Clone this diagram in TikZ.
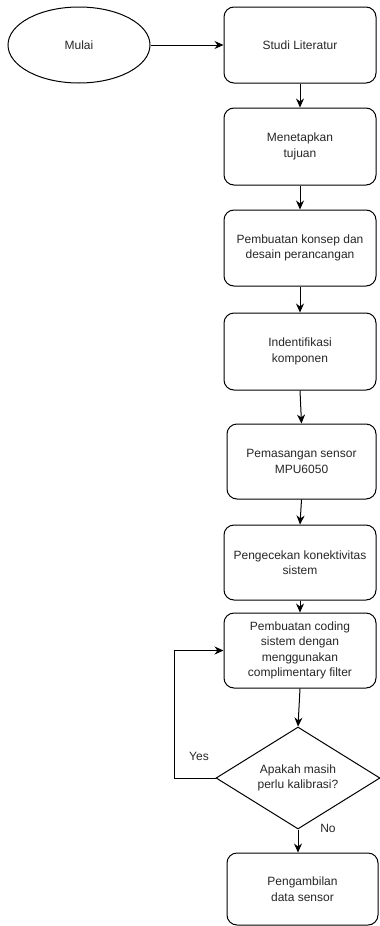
\documentclass[tikz,border=0pt]{standalone}
\usepackage{fontspec}
\setmainfont{Liberation Sans}
\usetikzlibrary{shapes.geometric,arrows.meta}
\begin{document}
\begin{tikzpicture}[x=1pt,y=-1pt,
  every node/.style={font=\fontsize{12}{15.5}\selectfont, text=black!85, align=center},
  proc/.style={draw, line width=1pt, rounded corners=10pt, minimum width=152pt, minimum height=76pt, inner sep=0pt},
  term/.style={draw, line width=1pt, ellipse, minimum width=142pt, minimum height=76pt, inner sep=0pt},
  decide/.style={draw, line width=1pt, diamond, aspect=1.6, minimum width=164pt, minimum height=102pt, inner sep=0pt},
  lbl/.style={inner sep=0pt},
  arr/.style={line width=1pt, -{Stealth[length=9pt,width=8pt]}}
]
\useasboundingbox (0,0) rectangle (380,926);
\node[term] (mulai) at (79,45) {Mulai};
\node[proc] (studi) at (300,45) {Studi Literatur};
\node[proc, minimum height=77pt] (tujuan) at (300,146.5) {Menetapkan\\tujuan};
\node[proc] (konsep) at (300,248) {Pembuatan konsep dan\\desain perancangan};
\node[proc, minimum height=77pt] (komp) at (300,351.5) {Indentifikasi\\komponen};
\node[proc, minimum width=149pt, minimum height=75pt] (sensor) at (301.5,461.5) {Pemasangan sensor\\MPU6050};
\node[proc, minimum height=75pt] (cek) at (300,562.5) {Pengecekan konektivitas\\sistem};
\node[proc, minimum height=75pt] (coding) at (300,650.5) {Pembuatan coding\\sistem dengan\\menggunakan\\complimentary filter};
\node[decide] (dia) at (298,778) {Apakah masih\\perlu kalibrasi?};
\node[proc, minimum width=151pt, minimum height=72pt] (ambil) at (302.5,889) {Pengambilan\\data sensor};
\node[lbl] (yes) at (199,756) {Yes};
\node[lbl] (no) at (328,828) {No};
\coordinate (loop) at (174,778);

\draw[arr] (mulai) -- (studi);
\draw[arr] (studi) -- (tujuan);
\draw[arr] (tujuan) -- (konsep);
\draw[arr] (konsep) -- (komp);
\draw[arr] (komp.south) -- (sensor.north);
\draw[arr] (sensor.south) -- (cek.north);
\draw[arr] (cek) -- (coding);
\draw[arr] (coding.south) -- (dia.north);
\draw[arr] (dia.west) -- (loop) |- (coding.west);
\draw[arr] (dia.south) -- (dia.south |- ambil.north);
\end{tikzpicture}
\end{document}
